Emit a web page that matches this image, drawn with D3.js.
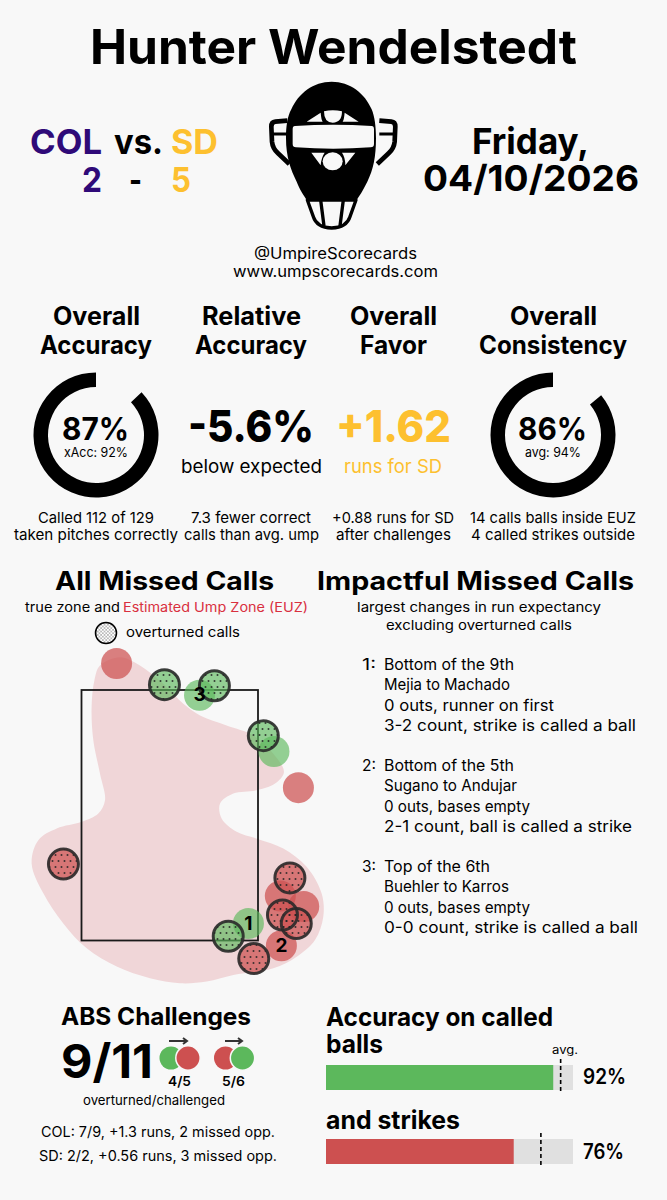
<!DOCTYPE html>
<html>
<head>
<meta charset="utf-8">
<title>Hunter Wendelstedt</title>
<script src="https://d3js.org/d3.v7.min.js"></script>
<style>
  html, body { margin: 0; padding: 0; background: #f8f8f8; }
  svg { display: block; }
  text { font-family: Inter, "Noto Sans", sans-serif; }
</style>
</head>
<body>
<div id="card"></div>
<script>
// game
const umpire = "Hunter Wendelstedt";
const teams = ["COL", "SD"];
const scores = [2, 5];
const teamColors = ["#2f0a78", "#fdc02f"];

// rings: percent shown, small note under it
const ringValues = [87, 86];
const ringNotes = ["xAcc: 92%", "avg: 94%"];

// missed calls, plate_x / plate_z in feet
const zoneX = [-0.83, 0.83];
const zoneZ = [1.6, 3.96];
const callX = [-0.50, 1.21, 1.04, 1.26, 1.05, 0.28, 0.98, 0.74, -1.00, 1.13, 1.06, 1.19, 0.79, -0.05, 0.42, 0.88, 0.55];
const callZ = [4.21, 3.04, 2.02, 1.92, 1.55, 3.91, 3.38, 1.76, 2.32, 2.19, 1.84, 1.76, 1.43, 4.01, 4.00, 3.53, 1.64];
const callType = ["r", "r", "r", "r", "r", "g", "g", "g", "r", "r", "r", "r", "r", "g", "g", "g", "g"];
const callOverturned = [0, 0, 0, 0, 0, 0, 0, 0, 1, 1, 1, 1, 1, 1, 1, 1, 1];
const callRank = ["", "", "", "", "2", "3", "", "1", "", "", "", "", "", "", "", "", ""];

// estimated ump zone outline, feet
const euzX = [-0.656, -0.468, -0.280, -0.060, 0.128, 0.285, 0.535, 0.786, 0.974, 1.074, 0.990, 0.817, 0.598, 0.473, 0.488, 0.629, 0.833, 1.068, 1.287, 1.428, 1.444, 1.366, 1.194, 0.974, 0.598, 0.347, 0.096, -0.186, -0.499, -0.781, -1.001, -1.189, -1.299, -1.236, -1.063, -0.828, -0.672, -0.609, -0.656, -0.719, -0.735, -0.709];
const euzZ = [4.191, 4.269, 4.191, 4.018, 3.830, 3.720, 3.626, 3.533, 3.360, 3.188, 3.078, 3.015, 2.984, 2.890, 2.749, 2.624, 2.555, 2.467, 2.294, 2.044, 1.824, 1.605, 1.448, 1.338, 1.276, 1.213, 1.197, 1.244, 1.354, 1.526, 1.761, 2.044, 2.326, 2.545, 2.655, 2.718, 2.796, 2.921, 3.172, 3.486, 3.799, 4.050];

// impactful calls
const impactNums = ["1:", "2:", "3:"];
const impactLines = [
  ["Bottom of the 9th", "Mejia to Machado", "0 outs, runner on first", "3-2 count, strike is called a ball"],
  ["Bottom of the 5th", "Sugano to Andujar", "0 outs, bases empty", "2-1 count, ball is called a strike"],
  ["Top of the 6th", "Buehler to Karros", "0 outs, bases empty", "0-0 count, strike is called a ball"]
];

// accuracy bars
const barNames = ["balls", "strikes"];
const barValues = [92, 76];
const barAverages = [95, 87];

const RED = "#cd5050", GREEN = "#5cb85c", BG = "#f8f8f8";

const svg = d3.select("#card").append("svg").attr("width", 667).attr("height", 1200);
svg.append("rect").attr("width", 667).attr("height", 1200).attr("fill", BG);

const defs = svg.append("defs");
const dots = defs.append("pattern").attr("id", "dots").attr("patternUnits", "userSpaceOnUse")
  .attr("width", 6).attr("height", 12);
dots.append("circle").attr("cx", 1.5).attr("cy", 3).attr("r", 1).attr("fill", "#222");
dots.append("circle").attr("cx", 4.5).attr("cy", 9).attr("r", 1).attr("fill", "#222");
const dotsFine = defs.append("pattern").attr("id", "dotsFine").attr("patternUnits", "userSpaceOnUse")
  .attr("width", 3.4).attr("height", 3.4);
dotsFine.append("circle").attr("cx", 0.85).attr("cy", 0.85).attr("r", 0.55).attr("fill", "#333");
dotsFine.append("circle").attr("cx", 2.55).attr("cy", 2.55).attr("r", 0.55).attr("fill", "#333");

// text fitted between x0 and x1 on a baseline
function label(str, x0, x1, base, size, weight, fill) {
  return svg.append("text")
    .attr("x", x0).attr("y", base)
    .attr("textLength", x1 - x0).attr("lengthAdjust", "spacingAndGlyphs")
    .attr("font-size", size).attr("font-weight", weight || 400)
    .attr("fill", fill || "#000").text(str);
}

// header
label(umpire, 90, 577, 64, 48, 700);
label(teams[0], 30, 102, 154, 34, 700, teamColors[0]);
label("vs.", 114, 163, 154, 34, 700);
label(teams[1], 171, 218, 154, 34, 700, teamColors[1]);
label(scores[0], 82, 102, 192, 34, 700, teamColors[0]);
label("-", 129, 142, 192, 34, 700);
label(scores[1], 171, 191, 192, 34, 700, teamColors[1]);
label("Friday,", 472, 589, 154, 36, 700);
label("04/10/2026", 423, 639, 191, 36, 700);

// mask, drawn in its own little grid
const mask = svg.append("g").attr("transform", "translate(250,70) scale(0.3333)");
mask.append("path").attr("fill", "none").attr("stroke", "#000").attr("stroke-width", 14).attr("stroke-linejoin", "round")
  .attr("d", "M112 152 L76 155 Q64 156 64 170 L66 215 Q68 235 84 250 L118 282 M388 152 L424 155 Q436 156 436 170 L434 215 Q432 235 416 250 L382 282");
mask.append("path").attr("fill", "none").attr("stroke", "#000").attr("stroke-width", 9)
  .attr("d", "M66 192 L112 192 M434 192 L388 192");
mask.append("path").attr("fill", "#000")
  .attr("d", "M245 35 C300 35 345 70 365 118 C374 140 378 170 378 205 C378 260 370 300 352 335 C338 362 328 380 318 392 L172 392 C160 375 150 360 140 335 C122 300 108 260 108 205 C108 170 112 140 124 118 C145 70 190 35 245 35 Z");
mask.append("path").attr("fill", "#f8f8f8")
  .attr("d", "M135 168 Q250 160 365 168 Q372 168 372 178 L372 222 Q372 232 362 232 Q250 240 138 232 Q128 232 128 222 L128 178 Q128 168 135 168 Z");
mask.append("path").attr("fill", "#f8f8f8")
  .attr("d", "M170 155 L212 128 Q214 150 218 155 Z M326 155 L284 128 Q282 150 278 155 Z M222 124 Q248 118 276 124 Q276 158 248 158 Q222 158 222 124 Z");
mask.append("path").attr("fill", "#f8f8f8")
  .attr("d", "M184 248 L224 248 Q214 262 212 286 Z M316 248 L276 248 Q286 262 286 286 Z");
mask.append("ellipse").attr("fill", "#f8f8f8").attr("cx", 248).attr("cy", 274).attr("rx", 30).attr("ry", 27);
mask.append("path").attr("fill", "#f8f8f8").attr("stroke", "#000").attr("stroke-width", 10).attr("stroke-linejoin", "round")
  .attr("d", "M172 390 L318 390 L300 440 Q290 472 245 474 Q200 472 190 440 Z");
mask.append("path").attr("fill", "none").attr("stroke", "#000").attr("stroke-width", 10)
  .attr("d", "M212 390 L222 468 M280 390 L270 468");

label("@UmpireScorecards", 254, 417, 259, 15.5, 400);
label("www.umpscorecards.com", 233, 438, 277, 15.5, 400);

// stat headings
label("Overall", 53, 140, 325, 25, 700);
label("Accuracy", 40, 152, 354, 25, 700);
label("Relative", 202, 301, 325, 25, 700);
label("Accuracy", 195, 307, 354, 25, 700);
label("Overall", 350, 437, 325, 25, 700);
label("Favor", 360, 427, 354, 25, 700);
label("Overall", 510, 597, 325, 25, 700);
label("Consistency", 479, 627, 354, 25, 700);

// accuracy rings
const ringCx = [96, 553];
const angle = d3.scaleLinear().domain([0, 100]).range([0, 2 * Math.PI]);
const ringArc = d3.arc().innerRadius(48).outerRadius(62.5);
ringValues.forEach((v, i) => {
  svg.append("path")
    .attr("transform", `translate(${ringCx[i]},435)`)
    .attr("fill", "#000")
    .attr("d", ringArc({ startAngle: angle(100 - v), endAngle: angle(100) }));
});
label(ringValues[0] + "%", 62, 129, 440, 31, 700);
label(ringNotes[0], 64, 128, 457, 13, 400);
label(ringValues[1] + "%", 518, 587, 440, 31, 700);
label(ringNotes[1], 525, 581, 457, 13, 400);

label("-5.6%", 188, 314, 442, 44, 800);
label("below expected", 181, 322, 473, 18.5, 400);
label("+1.62", 336, 451, 442, 44, 800, teamColors[1]);
label("runs for SD", 344, 442, 473, 18.5, 400, teamColors[1]);

label("Called 112 of 129", 38, 154, 523, 15);
label("taken pitches correctly", 14, 178, 540, 15);
label("7.3 fewer correct", 191, 311, 523, 15);
label("calls than avg. ump", 184, 319, 540, 15);
label("+0.88 runs for SD", 332, 454, 523, 15);
label("after challenges", 336, 451, 540, 15);
label("14 calls balls inside EUZ", 470, 636, 523, 15);
label("4 called strikes outside", 471, 635, 540, 15);

// missed calls panel
label("All Missed Calls", 55, 274, 590, 25, 700);
label("true zone and", 25, 120, 612, 13.5);
label("Estimated Ump Zone (EUZ)", 123, 308, 612, 13.5, 400, "#d9303f");
svg.append("circle").attr("cx", 106).attr("cy", 633).attr("r", 10.5).attr("fill", "#fff");
svg.append("circle").attr("cx", 106).attr("cy", 633).attr("r", 10.5)
  .attr("fill", "url(#dotsFine)").attr("stroke", "#000").attr("stroke-width", 1.5);
label("overturned calls", 126, 240, 637, 14);

const x = d3.scaleLinear().domain(zoneX).range([81.5, 258]);
const y = d3.scaleLinear().domain(zoneZ).range([940.5, 690]);

const euzLine = d3.line().x(d => x(d[0])).y(d => y(d[1])).curve(d3.curveCatmullRomClosed);
svg.append("path").attr("d", euzLine(d3.zip(euzX, euzZ))).attr("fill", "#f0d6d8");
svg.append("rect")
  .attr("x", x(zoneX[0])).attr("y", y(zoneZ[1]))
  .attr("width", x(zoneX[1]) - x(zoneX[0])).attr("height", y(zoneZ[0]) - y(zoneZ[1]))
  .attr("fill", "none").attr("stroke", "#1a1a1a").attr("stroke-width", 1.8);

const calls = callX.map((v, i) => ({ x: v, z: callZ[i], type: callType[i], over: callOverturned[i], rank: callRank[i] }));
const callFill = d => d.type === "r" ? RED : GREEN;
svg.append("g").selectAll("circle").data(calls).join("circle")
  .attr("cx", d => x(d.x)).attr("cy", d => y(d.z)).attr("r", 15.5)
  .attr("fill", callFill).attr("fill-opacity", d => d.type === "r" ? 0.72 : 0.65);
svg.append("g").selectAll("circle").data(calls.filter(d => d.over)).join("circle")
  .attr("cx", d => x(d.x)).attr("cy", d => y(d.z)).attr("r", 15)
  .attr("fill", "url(#dots)").attr("fill-opacity", 0.85)
  .attr("stroke", "#2a2a2a").attr("stroke-opacity", 0.9).attr("stroke-width", 3);
svg.append("g").selectAll("text").data(calls.filter(d => d.rank)).join("text")
  .attr("x", d => x(d.x)).attr("y", d => y(d.z) + 6).attr("text-anchor", "middle")
  .attr("font-size", 19).attr("font-weight", 700).text(d => d.rank);

// impactful panel
label("Impactful Missed Calls", 317, 634, 590, 25, 700);
label("largest changes in run expectancy", 357, 601, 612, 13.5);
label("excluding overturned calls", 386, 572, 630, 13.5);
const impactTop = [670, 771, 872];
const lineWidths = [[384, 514], [384, 510], [384, 554], [384, 636], [384, 514], [384, 517], [384, 530], [384, 632], [384, 490], [384, 509], [384, 530], [384, 638]];
impactLines.forEach((block, b) => {
  label(impactNums[b], 362, 376, impactTop[b], 16);
  block.forEach((s, i) => {
    const w = lineWidths[b * 4 + i];
    label(s, w[0], w[1], impactTop[b] + i * 20.3, 16);
  });
});

// ABS challenges
label("ABS Challenges", 61, 251, 1025, 24, 700);
label("9/11", 61, 153, 1078, 47, 700);
const pairX = [171, 188, 225.5, 242.5];
const pairFill = [GREEN, RED, RED, GREEN];
pairX.forEach((cx, i) => {
  svg.append("circle").attr("cx", cx).attr("cy", 1058).attr("r", i % 2 ? 12.2 : 11.5)
    .attr("fill", pairFill[i]).attr("stroke", BG).attr("stroke-width", i % 2 ? 1.5 : 0);
});
[[169, 187], [225, 242]].forEach(a => {
  svg.append("path").attr("fill", "none").attr("stroke", "#333").attr("stroke-width", 2)
    .attr("d", `M${a[0]} 1041 L${a[1]} 1041 M${a[1] - 4} 1038 L${a[1]} 1041 L${a[1] - 4} 1044`);
});
label("4/5", 168, 191, 1086, 13.5, 600);
label("5/6", 222, 245, 1086, 13.5, 600);
label("overturned/challenged", 83, 225, 1105, 13.5);
label("COL: 7/9, +1.3 runs, 2 missed opp.", 41, 275, 1137, 14);
label("SD: 2/2, +0.56 runs, 3 missed opp.", 39, 277, 1161, 14);

// accuracy bars
label("Accuracy on called", 326, 553, 1026, 25, 700);
label(barNames[0], 326, 383, 1053, 25, 700);
label("and " + barNames[1], 326, 460, 1129, 25, 700);
label("avg.", 552, 578, 1054, 11);
const barScale = d3.scaleLinear().domain([0, 100]).range([326, 573]);
const barY = [1065, 1139];
const barFill = [GREEN, RED];
barValues.forEach((v, i) => {
  svg.append("rect").attr("x", barScale(0)).attr("y", barY[i])
    .attr("width", barScale(100) - barScale(0)).attr("height", 25).attr("fill", "#e0e0e0");
  svg.append("rect").attr("x", barScale(0)).attr("y", barY[i])
    .attr("width", barScale(v) - barScale(0)).attr("height", 25).attr("fill", barFill[i]);
  svg.append("line").attr("x1", barScale(barAverages[i])).attr("x2", barScale(barAverages[i]))
    .attr("y1", barY[i] - 6).attr("y2", barY[i] + 29)
    .attr("stroke", "#000").attr("stroke-width", 1.6).attr("stroke-dasharray", "4 3");
});
label(barValues[0] + "%", 583, 626, 1084, 21, 600);
label(barValues[1] + "%", 583, 624, 1159, 21, 600);
</script>
</body>
</html>
